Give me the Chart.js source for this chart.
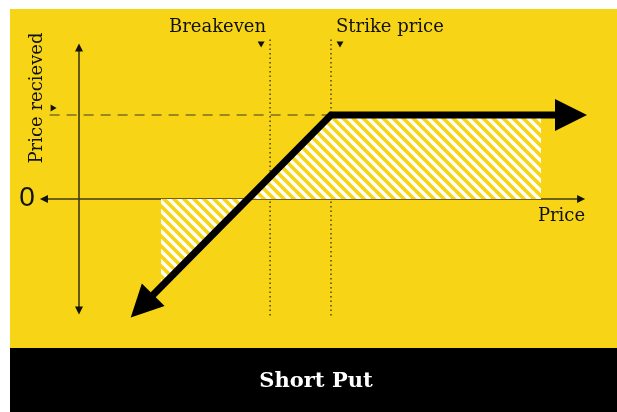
<!DOCTYPE html>
<html>
<head>
<meta charset="utf-8">
<script src="https://cdn.jsdelivr.net/npm/chart.js@4.4.1/dist/chart.umd.min.js"></script>
<style>
  html, body { margin: 0; padding: 0; background: #fff; }
  #wrap { width: 617px; height: 412px; }
</style>
</head>
<body>
<div id="wrap"><canvas id="payoff" width="617" height="412"></canvas></div>
<script>
// payoff of a short put (price on x, profit on y)
const payoffX = [3.3, 12, 23]
const payoffY = [-4.8, 4, 4]

// hatched areas
const profitX = [8, 12, 22]
const profitY = [0, 4, 4]
const lossX = [3.9, 8]
const lossY = [-4.1, 0]

// reference levels
const strike = 12
const breakeven = 9.1
const premium = 4

// axis extents (data units)
const xAxisEnds = [-1.86, 24.1]
const yAxisEnds = [-5.5, 7.4]
const guideEnds = [-5.65, 7.6]
const premiumLineStart = -1.4

const YELLOW = "#f7d516"
const INK = "#111111"
const SERIF = "'DejaVu Serif', serif"

function toPoints(xs, ys) {
    return xs.map((x, i) => ({ x: x, y: ys[i] }))
}

// white diagonal stripes
function makeHatch() {
    const s = 10
    const c = document.createElement("canvas")
    c.width = s
    c.height = s
    const g = c.getContext("2d")
    g.fillStyle = YELLOW
    g.fillRect(0, 0, s, s)
    g.strokeStyle = "#ffffff"
    g.lineWidth = 3.4
    for (const k of [-s, 0, s]) {
        g.beginPath()
        g.moveTo(-1, -1 + k)
        g.lineTo(s + 1, s + 1 + k)
        g.stroke()
    }
    return g.createPattern(c, "repeat")
}

function arrowHead(ctx, tipX, tipY, angle, len, half) {
    ctx.save()
    ctx.translate(tipX, tipY)
    ctx.rotate(angle)
    ctx.beginPath()
    ctx.moveTo(0, 0)
    ctx.lineTo(-len, -half)
    ctx.lineTo(-len, half)
    ctx.closePath()
    ctx.fill()
    ctx.restore()
}

const hatch = makeHatch()

const backdrop = {
    id: "backdrop",
    beforeDraw(chart) {
        const { ctx } = chart
        ctx.save()
        ctx.fillStyle = "#ffffff"
        ctx.fillRect(0, 0, 617, 412)
        ctx.fillStyle = YELLOW
        ctx.fillRect(10, 9, 607, 339)
        ctx.fillStyle = "#000000"
        ctx.fillRect(10, 348, 607, 64)
        ctx.fillStyle = "#ffffff"
        ctx.font = "bold 21px " + SERIF
        ctx.textAlign = "center"
        ctx.textBaseline = "middle"
        ctx.fillText("Short Put", 316, 382)
        ctx.restore()
    }
}

const guides = {
    id: "guides",
    beforeDatasetsDraw(chart) {
        const { ctx, scales } = chart
        const sx = v => scales.x.getPixelForValue(v)
        const sy = v => scales.y.getPixelForValue(v)
        ctx.save()

        // axes
        ctx.strokeStyle = "rgba(20,20,20,0.8)"
        ctx.fillStyle = INK
        ctx.lineWidth = 1.6
        ctx.beginPath()
        ctx.moveTo(sx(xAxisEnds[0]) + 4, sy(0))
        ctx.lineTo(sx(xAxisEnds[1]) - 4, sy(0))
        ctx.moveTo(sx(0), sy(yAxisEnds[1]) + 4)
        ctx.lineTo(sx(0), sy(yAxisEnds[0]) - 4)
        ctx.stroke()
        arrowHead(ctx, sx(xAxisEnds[1]), sy(0), 0, 8, 4)
        arrowHead(ctx, sx(xAxisEnds[0]), sy(0), Math.PI, 8, 4)
        arrowHead(ctx, sx(0), sy(yAxisEnds[1]), -Math.PI / 2, 8, 4)
        arrowHead(ctx, sx(0), sy(yAxisEnds[0]), Math.PI / 2, 8, 4)

        // premium dashed line
        ctx.strokeStyle = "rgba(40,40,40,0.6)"
        ctx.lineWidth = 1.5
        ctx.setLineDash([10, 7])
        ctx.beginPath()
        ctx.moveTo(sx(premiumLineStart), sy(premium))
        ctx.lineTo(sx(strike), sy(premium))
        ctx.stroke()

        // dotted guides
        ctx.strokeStyle = "rgba(20,20,20,0.75)"
        ctx.setLineDash([1.5, 3])
        ctx.beginPath()
        for (const v of [breakeven, strike]) {
            ctx.moveTo(sx(v), sy(guideEnds[1]))
            ctx.lineTo(sx(v), sy(guideEnds[0]))
        }
        ctx.stroke()
        ctx.setLineDash([])

        // small markers
        const top = sy(guideEnds[1])
        arrowHead(ctx, sx(breakeven) - 9, top + 8, Math.PI / 2, 6, 3.5)
        arrowHead(ctx, sx(strike) + 9, top + 8, Math.PI / 2, 6, 3.5)
        arrowHead(ctx, sx(premiumLineStart) + 7, sy(premium) - 7, 0, 6, 3.5)

        // labels
        ctx.fillStyle = INK
        ctx.font = "18px " + SERIF
        ctx.textBaseline = "middle"
        ctx.textAlign = "right"
        ctx.fillText("Breakeven", sx(breakeven) - 4, 27)
        ctx.textAlign = "left"
        ctx.fillText("Strike price", sx(strike) + 5, 27)
        ctx.textAlign = "right"
        ctx.fillText("Price", sx(xAxisEnds[1]), sy(0) + 17)
        ctx.textAlign = "center"
        ctx.fillText("Profit", sx(17), sy(2))
        ctx.fillText("Loss", sx(5.2), sy(0) + 19)

        ctx.save()
        ctx.translate(37, 98)
        ctx.rotate(-Math.PI / 2)
        ctx.fillText("Price recieved", 0, 0)
        ctx.restore()

        ctx.font = "28px 'Liberation Sans', sans-serif"
        ctx.textAlign = "right"
        ctx.fillText("0", sx(xAxisEnds[0]) - 5, sy(0) - 1)
        ctx.restore()
    }
}

const heads = {
    id: "heads",
    afterDatasetsDraw(chart) {
        const { ctx } = chart
        const pts = chart.getDatasetMeta(0).data
        ctx.save()
        ctx.fillStyle = "#000000"
        const ends = [[pts[pts.length - 1], pts[pts.length - 2]], [pts[0], pts[1]]]
        for (const [end, prev] of ends) {
            const a = Math.atan2(end.y - prev.y, end.x - prev.x)
            const ahead = 25
            arrowHead(ctx, end.x + Math.cos(a) * ahead, end.y + Math.sin(a) * ahead, a, 32, 16)
        }
        ctx.restore()
    }
}

new Chart(document.getElementById("payoff"), {
    type: "scatter",
    data: {
        datasets: [
            {
                data: toPoints(payoffX, payoffY),
                showLine: true,
                borderColor: "#000000",
                borderWidth: 7,
                borderCapStyle: "butt",
                borderJoinStyle: "miter",
                pointRadius: 0,
                fill: false
            },
            {
                data: toPoints(profitX, profitY),
                showLine: true,
                borderWidth: 0,
                pointRadius: 0,
                backgroundColor: hatch,
                fill: "origin"
            },
            {
                data: toPoints(lossX, lossY),
                showLine: true,
                borderWidth: 0,
                pointRadius: 0,
                backgroundColor: hatch,
                fill: "origin"
            }
        ]
    },
    options: {
        responsive: false,
        animation: false,
        events: [],
        layout: { padding: { left: 79, right: 34, top: 41.5, bottom: 97.5 } },
        scales: {
            x: { type: "linear", min: 0, max: 24, display: false },
            y: { type: "linear", min: -5.5, max: 7.5, display: false }
        },
        plugins: {
            legend: { display: false },
            tooltip: { enabled: false }
        }
    },
    plugins: [backdrop, guides, heads]
})
</script>
</body>
</html>
